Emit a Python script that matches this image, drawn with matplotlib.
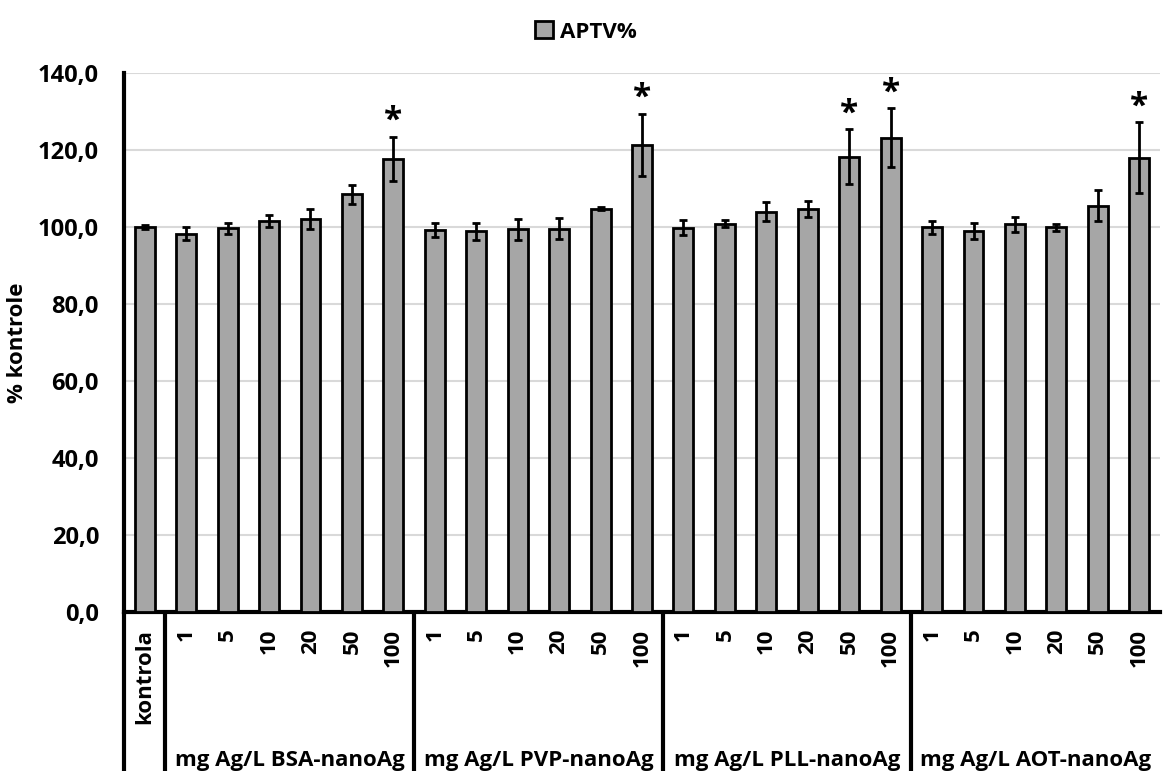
import matplotlib
matplotlib.use("Agg")
import matplotlib.pyplot as plt
import matplotlib.transforms as mtransforms
from matplotlib.patches import Patch
import numpy as np

plt.rcParams['font.family'] = ['Open Sans', 'DejaVu Sans']
plt.rcParams['font.weight'] = 'bold'

# data
tick_labels = ['kontrola',
               '1', '5', '10', '20', '50', '100',
               '1', '5', '10', '20', '50', '100',
               '1', '5', '10', '20', '50', '100',
               '1', '5', '10', '20', '50', '100']
values = [100.0,
          98.3, 99.7, 101.5, 102.1, 108.5, 117.7,
          99.2, 98.9, 99.4, 99.6, 104.8, 121.3,
          99.8, 100.9, 104.0, 104.6, 118.3, 123.2,
          99.9, 99.0, 100.7, 99.9, 105.5, 118.0]
errors = [0.5,
          1.7, 1.4, 1.5, 2.6, 2.5, 5.7,
          1.8, 2.2, 2.8, 2.7, 0.4, 8.1,
          2.0, 0.8, 2.5, 2.1, 7.1, 7.6,
          1.7, 2.1, 1.9, 0.9, 4.0, 9.2]
significant = [6, 12, 17, 18, 24]
group_names = ['mg Ag/L BSA-nanoAg', 'mg Ag/L PVP-nanoAg',
               'mg Ag/L PLL-nanoAg', 'mg Ag/L AOT-nanoAg']
group_size = 6

W, H = 1163, 771
fig = plt.figure(figsize=(W / 100, H / 100), dpi=100)
ax = fig.add_axes([124 / W, 159 / H, 1036 / W, 539 / H])

x = np.arange(len(values))
bar_color = '#a6a6a6'
ax.bar(x, values, width=0.48, color=bar_color, edgecolor='black', linewidth=2.0, zorder=3)
ax.errorbar(x, values, yerr=errors, fmt='none', ecolor='black', elinewidth=2.0,
            capsize=2.6, capthick=2.0, zorder=4)

# significance stars
for i in significant:
    ax.text(x[i], values[i] + errors[i] + 4.0, '*', ha='center', va='center',
            fontsize=24, fontweight='bold', zorder=5)

ax.set_xlim(-0.5, len(values) - 0.5)
ax.set_ylim(0, 140)
ax.set_yticks(np.arange(0, 141, 20))
ax.set_yticklabels([f'{v:.1f}'.replace('.', ',') for v in np.arange(0, 141, 20)],
                   fontsize=17, fontweight='bold')
ax.yaxis.grid(True, color='#d9d9d9', linewidth=1.5, zorder=0)
ax.set_axisbelow(True)
ax.tick_params(axis='y', length=0, pad=18)

ax.set_xticks(x)
ax.set_xticklabels(tick_labels, rotation=90, fontsize=16, fontweight='bold', va='top')
ax.tick_params(axis='x', length=0, pad=12)

for side in ['top', 'right']:
    ax.spines[side].set_visible(False)
ax.spines['left'].set_linewidth(3)
ax.spines['bottom'].set_linewidth(3)

fig.text(18 / W, 1 - 343 / H, '% kontrole', rotation=90, ha='center', va='center',
         fontsize=16, fontweight='bold')

# multi-level category axis: separators and group labels
trans = mtransforms.blended_transform_factory(ax.transData, ax.transAxes)
bounds = [-0.5, 0.5] + [0.5 + group_size * (k + 1) for k in range(len(group_names) - 1)]
for b in bounds:
    ax.plot([b, b], [0, -0.32], color='black', linewidth=3, transform=trans,
            clip_on=False, solid_capstyle='butt')
for k, name in enumerate(group_names):
    cx = 1 + group_size * k + (group_size - 1) / 2
    ax.text(cx, -0.2746, name, transform=trans, ha='center', va='center',
            fontsize=16, fontweight='bold')

handle = Patch(facecolor=bar_color, edgecolor='black', linewidth=2.0)
fig.legend([handle], ['APTV%'], loc='center', bbox_to_anchor=(586 / W, 1 - 32 / H),
           frameon=False, prop={'weight': 'bold', 'size': 16},
           handlelength=0.8, handleheight=0.8, handletextpad=0.3)

fig.savefig('out.png', dpi=100)
